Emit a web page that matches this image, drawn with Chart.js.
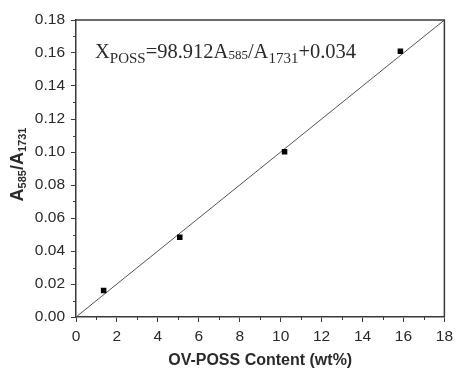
<!DOCTYPE html>
<html>
<head>
<meta charset="utf-8">
<script src="https://cdn.jsdelivr.net/npm/chart.js@4.4.1/dist/chart.umd.min.js"></script>
<style>
html,body{margin:0;padding:0;background:#fff;}
#wrap{width:458px;height:369px;}
</style>
</head>
<body>
<div id="wrap"><canvas id="c" width="458" height="369"></canvas></div>
<script>
// ---- data ----
const contentWt = [1.35, 5.07, 10.19, 15.85];
const absRatio = [0.016, 0.0483, 0.1002, 0.161];
const fitX = [0, 18];
const fitY = [0, 0.18];
const xTickMin = 0, xTickMax = 18, xStep = 2, xMinorStep = 1;
const yTickMin = 0, yTickMax = 0.18, yStep = 0.02, yMinorStep = 0.01;
const xTitle = 'OV-POSS Content (wt%)';
const eqParts = [['X',''],['POSS','sub'],['=98.912A',''],['585','sub2'],['/A',''],['1731','sub'],['+0.034','']];
const yTitleParts = [['A',''],['585','sub'],['/A',''],['1731','sub']];

const axisColor = '#3a3a3a';
const textColor = '#2a2a2a';

const decorPlugin = {
  id: 'decor',
  afterDraw(chart) {
    const ctx = chart.ctx;
    const a = chart.chartArea;
    const xs = chart.scales.x, ys = chart.scales.y;
    ctx.save();
    // frame top/right
    ctx.strokeStyle = axisColor;
    ctx.lineWidth = 1.5;
    ctx.beginPath();
    ctx.moveTo(a.left, a.top); ctx.lineTo(a.right, a.top); ctx.lineTo(a.right, a.bottom);
    ctx.stroke();
    // minor ticks
    ctx.lineWidth = 1;
    ctx.beginPath();
    for (let v = xTickMin + xMinorStep; v < xTickMax; v += 2 * xMinorStep) {
      const px = Math.round(xs.getPixelForValue(v)) + 0.5;
      ctx.moveTo(px, a.bottom); ctx.lineTo(px, a.bottom + 3);
    }
    for (let i = 1; i < Math.round((yTickMax - yTickMin) / yMinorStep); i += 2) {
      const v = yTickMin + i * yMinorStep;
      const py = Math.round(ys.getPixelForValue(v)) + 0.5;
      ctx.moveTo(a.left, py); ctx.lineTo(a.left - 3, py);
    }
    ctx.stroke();

    // equation text
    ctx.fillStyle = textColor;
    ctx.textBaseline = 'alphabetic';
    ctx.textAlign = 'left';
    let x = 95;
    const base = 58;
    for (const [t, k] of eqParts) {
      let size = 20.5, dy = 0;
      if (k === 'sub') { size = 15; dy = 5; }
      if (k === 'sub2') { size = 13; dy = 1; }
      ctx.font = size + 'px "Liberation Serif", "Times New Roman", serif';
      ctx.fillText(t, x, base + dy);
      x += ctx.measureText(t).width;
    }

    // y title rotated
    ctx.translate(23, (a.top + a.bottom) / 2 - 4);
    ctx.rotate(-Math.PI / 2);
    let total = 0;
    const fonts = yTitleParts.map(([t, k]) => k === 'sub' ? 'bold 11px "Liberation Sans", Arial, sans-serif' : 'bold 18px "Liberation Sans", Arial, sans-serif');
    yTitleParts.forEach(([t, k], i) => { ctx.font = fonts[i]; total += ctx.measureText(t).width; });
    let tx = -total / 2;
    yTitleParts.forEach(([t, k], i) => {
      ctx.font = fonts[i];
      ctx.fillText(t, tx, k === 'sub' ? 3 : 0);
      tx += ctx.measureText(t).width;
    });
    ctx.restore();
  }
};

new Chart(document.getElementById('c'), {
  type: 'scatter',
  data: {
    datasets: [
      {
        data: fitX.map((v, i) => ({x: v, y: fitY[i]})),
        showLine: true,
        borderColor: '#555',
        borderWidth: 1,
        pointRadius: 0,
        order: 2
      },
      {
        data: contentWt.map((v, i) => ({x: v, y: absRatio[i]})),
        pointStyle: 'rect',
        pointRadius: 3.9,
        backgroundColor: '#000',
        borderColor: '#000',
        borderWidth: 0,
        order: 1
      }
    ]
  },
  options: {
    responsive: false,
    devicePixelRatio: 1,
    animation: false,
    layout: { padding: { top: 20, right: 10, left: 0, bottom: 0 } },
    plugins: { legend: { display: false }, tooltip: { enabled: false } },
    scales: {
      x: {
        type: 'linear',
        min: xTickMin, max: xTickMax,
        ticks: { stepSize: xStep, color: textColor, font: { family: '"Liberation Sans", Arial, sans-serif', size: 15.5 }, padding: 5, maxRotation: 0 },
        grid: { drawOnChartArea: false, drawTicks: true, tickLength: 5, color: axisColor, tickWidth: 1 },
        border: { display: true, color: axisColor, width: 1.5 },
        title: { display: true, text: xTitle, color: textColor, font: { family: '"Liberation Sans", Arial, sans-serif', size: 16, weight: 'bold', lineHeight: 1.0 }, padding: { top: 0, bottom: 0 } },
        afterFit(scale) { scale.height = 52; }
      },
      y: {
        type: 'linear',
        min: yTickMin, max: yTickMax,
        ticks: { stepSize: yStep, color: textColor, font: { family: '"Liberation Sans", Arial, sans-serif', size: 15.5 }, padding: 6, callback: v => Number(v).toFixed(2) },
        grid: { drawOnChartArea: false, drawTicks: true, tickLength: 5, color: axisColor, tickWidth: 1 },
        border: { display: true, color: axisColor, width: 1.5 },
        afterFit(scale) { scale.width = 76; }
      }
    }
  },
  plugins: [decorPlugin]
});
</script>
</body>
</html>
